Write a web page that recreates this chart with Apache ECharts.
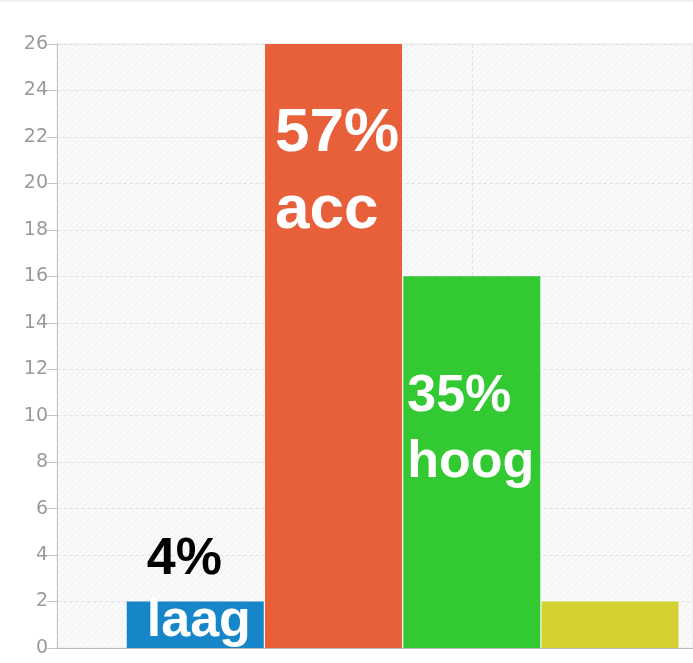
<!DOCTYPE html>
<html>
<head>
<meta charset="utf-8">
<script src="https://cdn.jsdelivr.net/npm/echarts@6/dist/echarts.min.js"></script>
<style>
  html, body { margin: 0; padding: 0; background: #fff; }
  #main { width: 693px; height: 663px; border-top: 2px solid #f0f0f0; box-sizing: border-box; }
</style>
</head>
<body>
<div id="main"></div>
<script>
// data
var categories = ['laag', 'acc', 'hoog', ''];
var positions = [1, 2, 3, 4];
var values = [2, 26, 16, 2];
var percents = ['4%', '57%', '35%', ''];
var colors = ['#1686c9', '#e8603a', '#33c933', '#d4d232'];

// light hatched background
function makeHatch() {
  var c = document.createElement('canvas');
  c.width = 6; c.height = 6;
  var ctx = c.getContext('2d');
  ctx.fillStyle = '#fafafa';
  ctx.fillRect(0, 0, 6, 6);
  ctx.strokeStyle = '#efefef';
  ctx.lineWidth = 1;
  ctx.beginPath();
  ctx.moveTo(0, 6); ctx.lineTo(6, 0);
  ctx.moveTo(-3, 3); ctx.lineTo(3, -3);
  ctx.moveTo(3, 9); ctx.lineTo(9, 3);
  ctx.stroke();
  return c;
}

// label layout per bar (offset from bar top-left)
var labelCfg = [
  { pos: [20, -73], size: 52, lh: 62, top: '#000' },
  { pos: [10, 51], size: 62, lh: 77, top: '#fff' },
  { pos: [4, 87], size: 52, lh: 66, top: '#fff' },
  null
];

var chart = echarts.init(document.getElementById('main'));

var data = values.map(function (v, i) {
  var cfg = labelCfg[i];
  return {
    value: [positions[i], v],
    itemStyle: { color: colors[i] },
    label: cfg ? {
      show: true,
      position: cfg.pos,
      align: 'left',
      verticalAlign: 'top',
      formatter: '{a|' + percents[i] + '}\n{b|' + categories[i] + '}',
      rich: {
        a: { color: cfg.top, fontSize: cfg.size, fontWeight: 'bold', lineHeight: cfg.lh, fontFamily: 'Liberation Sans, Arial, sans-serif' },
        b: { color: '#fff', fontSize: cfg.size, fontWeight: 'bold', lineHeight: cfg.lh, fontFamily: 'Liberation Sans, Arial, sans-serif' }
      }
    } : { show: false }
  };
});

chart.setOption({
  animation: false,
  grid: {
    left: 57,
    right: -1,
    top: 42,
    bottom: 15,
    show: true,
    backgroundColor: { image: makeHatch(), repeat: 'repeat' },
    borderColor: '#e8e8e8',
    borderWidth: 1
  },
  xAxis: {
    type: 'value',
    min: 0,
    max: 4.6,
    interval: 3,
    axisLabel: { show: false },
    axisTick: { show: false },
    axisLine: { show: true, lineStyle: { color: '#bbb' } },
    splitLine: { show: true, lineStyle: { color: '#e4e4e4', type: 'dashed' } }
  },
  yAxis: {
    type: 'value',
    min: 0,
    max: 26,
    interval: 2,
    axisLine: { show: true, lineStyle: { color: '#c4c4c4' } },
    axisTick: { show: true, length: 10, lineStyle: { color: '#c4c4c4' } },
    axisLabel: { color: '#9a9a9a', fontSize: 19, margin: 9, fontFamily: 'DejaVu Sans, sans-serif' },
    splitLine: { show: true, lineStyle: { color: '#e4e4e4', type: 'dashed' } }
  },
  series: [{
    type: 'bar',
    barWidth: 137,
    data: data
  }]
});
</script>
</body>
</html>
